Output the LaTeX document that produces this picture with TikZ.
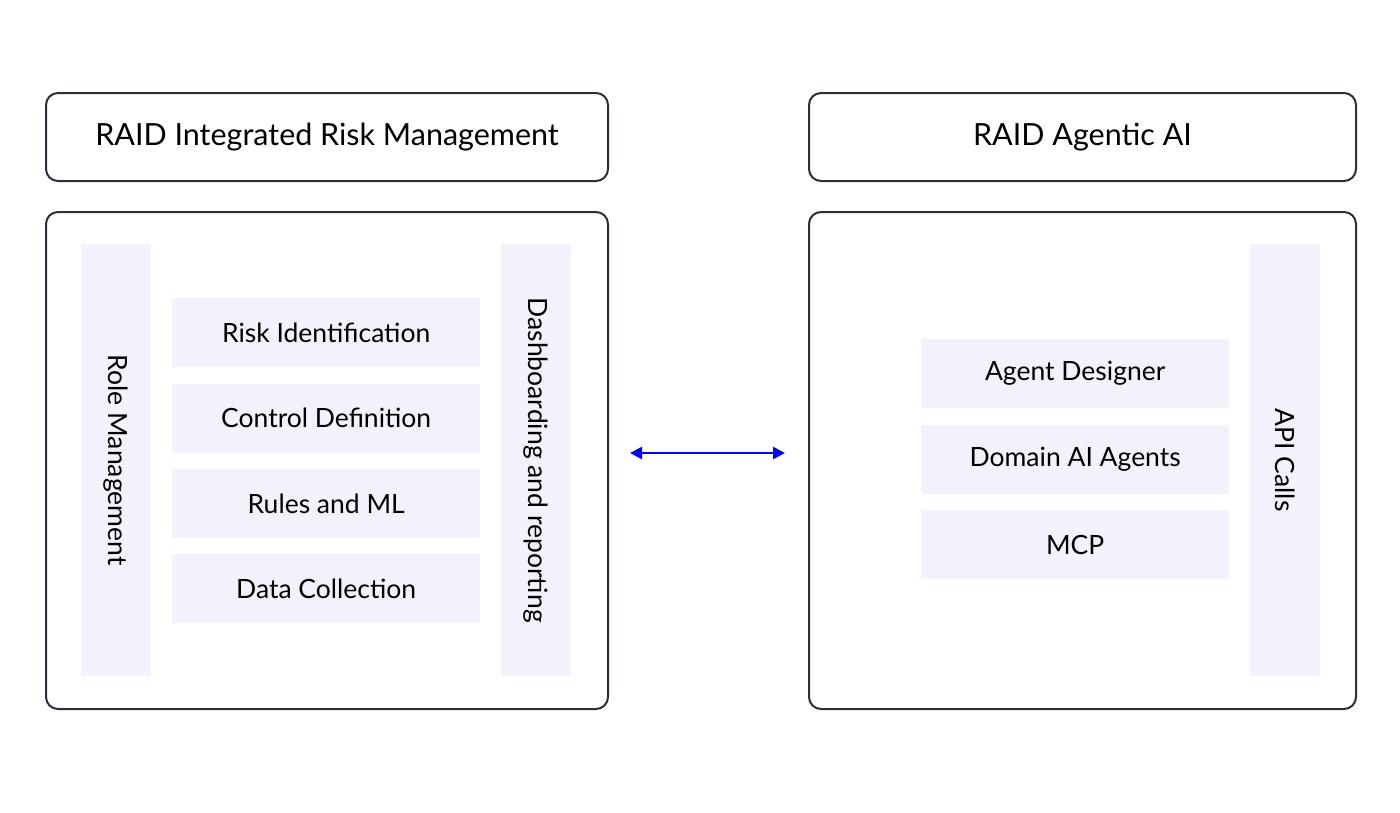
\documentclass[tikz,border=0pt]{standalone}
\usepackage{fontspec}
\setmainfont{Lato}
\usetikzlibrary{arrows.meta, positioning}
\definecolor{frame}{HTML}{2B3038}
\definecolor{pale}{HTML}{F2F2FD}
\begin{document}
\begin{tikzpicture}[%
	x=1pt, y=-1pt,
	every node/.style={font=\fontsize{26.5}{30}\selectfont, inner sep=0pt},
	>={Triangle[length=12pt, width=12pt]},
	]
	% -------------------------------------------------
	% box styles
	\tikzset{
		panel/.style={draw=frame, line width=2pt, rounded corners=12pt, anchor=north west},
		head/.style={panel, minimum height=88pt, font=\fontsize{30.5}{34}\selectfont},
		item/.style={fill=pale, anchor=north west, minimum width=308pt, minimum height=69pt},
		bar/.style={fill=pale, minimum width=70pt, minimum height=432pt, anchor=north west},
		vtext/.style={rotate=-90},
		link/.style={<->, blue, line width=2.5pt}
	}
	\useasboundingbox (0,0) rectangle (1400,812);

	% left side
	\node[head, minimum width=562pt]	(hl)	at (45,92)	{RAID Integrated Risk Management};
	\node[panel, minimum width=562pt, minimum height=497pt]	(pl)	at (45,211)	{};
	\node[bar]	(role)	at (81,244)	{};
	\node[vtext]	at (role.center)	{Role Management};
	\node[bar]	(dash)	at (501,244)	{};
	\node[vtext]	at (dash.center)	{Dashboarding and reporting};
	\node[item]	(risk)	at (172,298)	{Risk Identification};
	\node[item, below=16pt of risk.south west, anchor=north west]	(ctrl)	{Control Definition};
	\node[item, below=16pt of ctrl.south west, anchor=north west]	(rule)	{Rules and ML};
	\node[item, below=16pt of rule.south west, anchor=north west]	(data)	{Data Collection};

	% right side
	\node[head, minimum width=547pt]	(hr)	at (808,92)	{RAID Agentic AI};
	\node[panel, minimum width=547pt, minimum height=497pt]	(pr)	at (808,211)	{};
	\node[bar]	(api)	at (1250,244)	{};
	\node[vtext]	at (api.center)	{API Calls};
	\node[item]	(agd)	at (921,339)	{Agent Designer};
	\node[item, below=16pt of agd.south west, anchor=north west]	(dom)	{Domain AI Agents};
	\node[item, below=16pt of dom.south west, anchor=north west]	(mcp)	{MCP};

	% link between the two
	\coordinate (la) at (630,453);
	\coordinate (lb) at (785,453);
	\draw[link] (la) -- (lb);
\end{tikzpicture}
\end{document}
